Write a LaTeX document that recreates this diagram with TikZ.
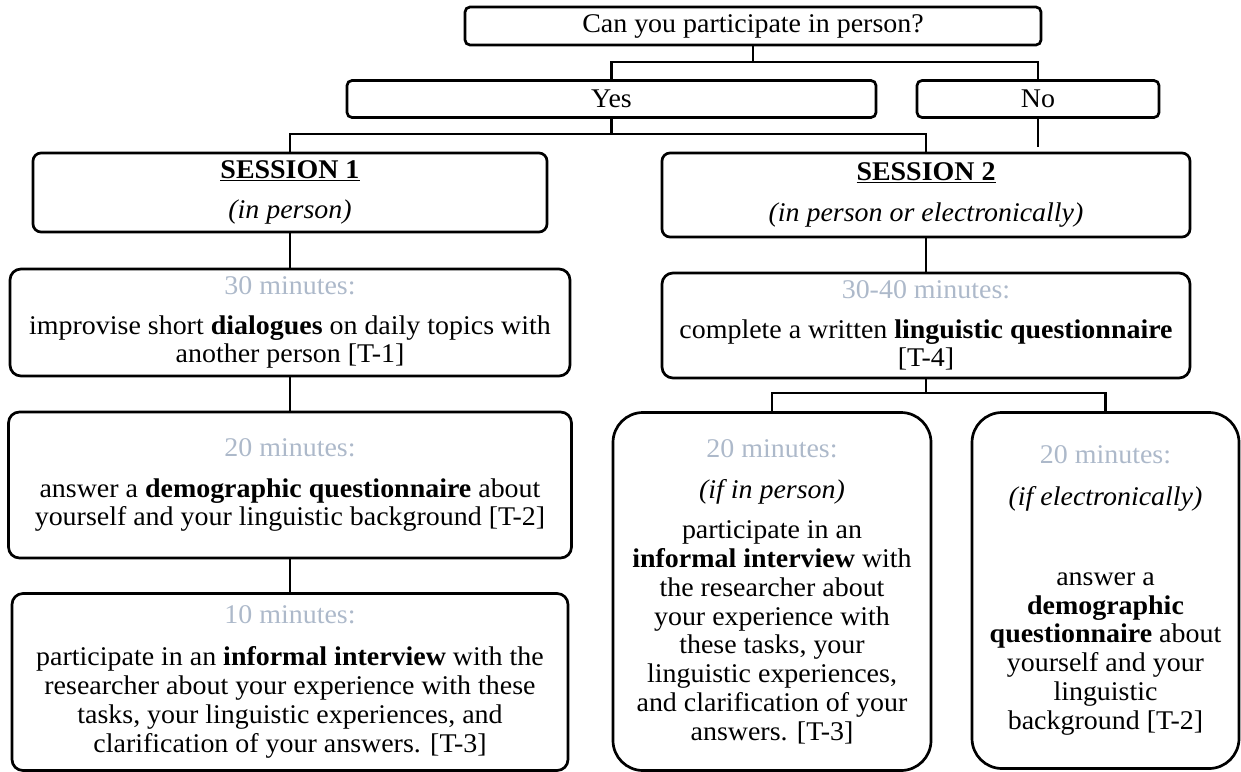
\documentclass[tikz,border=0pt]{standalone}
\usepackage{fontspec}
\setmainfont{Liberation Serif}[FakeStretch=1.035]
\definecolor{minc}{HTML}{ADB9CA}
\tikzset{
  box/.style={draw, line width=2.7pt, rounded corners=#1, inner sep=0pt, align=center,
    font=\fontsize{27}{28.8}\selectfont},
  box/.default=4pt,
  conn/.style={line width=2.7pt}
}
\newcommand{\mn}[1]{{\color{minc}#1}}
\begin{document}
\begin{tikzpicture}[x=1pt,y=-1pt]
\useasboundingbox (0,0) rectangle (1241,771);
% top level
\node[box=5pt, minimum width=576pt, minimum height=38pt] (q) at (753,26) {Can you participate in person?};
\node[box=5pt, minimum width=529pt, minimum height=37pt] (yes) at (611.5,99) {Yes};
\node[box=5pt, minimum width=242pt, minimum height=37pt] (no) at (1038,99) {No};
% sessions
\node[box=8pt, minimum width=514pt, minimum height=79pt] (s1) at (290,192.5)
  {\underline{\textbf{SESSION 1}}\\[12pt]\textit{(in person)}};
\node[box=8pt, minimum width=528pt, minimum height=84pt] (s2) at (926,195)
  {\underline{\textbf{SESSION 2}}\\[12pt]\textit{(in person or electronically)}};
% session 1 column
\node[box=11pt, minimum width=560pt, minimum height=107pt] (a1) at (290,322.5)
  {\mn{30 minutes:}\\[11pt]improvise short \textbf{dialogues} on daily topics with\\another person [T-1]};
\node[box=11pt, minimum width=563pt, minimum height=146pt] (a2) at (290,485)
  {\mn{20 minutes:}\\[12pt]answer a \textbf{demographic questionnaire} about\\yourself and your linguistic background [T-2]};
\node[box=11pt, minimum width=556pt, minimum height=177pt] (a3) at (290,682)
  {\mn{10 minutes:}\\[13pt]participate in an \textbf{informal interview} with the\\researcher about your experience with these\\tasks, your linguistic experiences, and\\clarification of your answers. [T-3]};
% session 2 column
\node[box=11pt, minimum width=528pt, minimum height=105pt] (b1) at (926,325.5)
  {\mn{30-40 minutes:}\\[11pt]complete a written \textbf{linguistic questionnaire}\\{}[T-4]};
\node[box=30pt, minimum width=318pt, minimum height=358pt] (b2) at (772,591.5)
  {\mn{20 minutes:}\\[13pt]\textit{(if in person)}\\[11pt]participate in an\\\textbf{informal interview} with\\the researcher about\\your experience with\\these tasks, your\\linguistic experiences,\\and clarification of your\\answers. [T-3]};
\node[box=30pt, minimum width=267pt, minimum height=356pt] (b3) at (1105.5,590.5)
  {\mn{20 minutes:}\\[13pt]\textit{(if electronically)}\\[51pt]answer a\\\textbf{demographic}\\\textbf{questionnaire} about\\yourself and your\\linguistic\\background [T-2]};
% junctions
\coordinate (qj) at (753,62);
\coordinate (yj) at (611.5,134);
\coordinate (bj) at (926,393);
\coordinate (noend) at (1038,147);
% connectors
\draw[conn] (q.south) -- (qj);
\draw[conn] (yes.north) |- (qj) -| (no.north);
\draw[conn] (yes.south) -- (yj);
\draw[conn] (s1.north) |- (yj) -| (s2.north);
\draw[conn] (no.south) -- (noend);
\draw[conn] (s1.south) -- (a1.north);
\draw[conn] (a1.south) -- (a2.north);
\draw[conn] (a2.south) -- (a3.north);
\draw[conn] (s2.south) -- (b1.north);
\draw[conn] (b1.south) -- (bj);
\draw[conn] (b2.north) |- (bj) -| (b3.north);
\end{tikzpicture}
\end{document}
